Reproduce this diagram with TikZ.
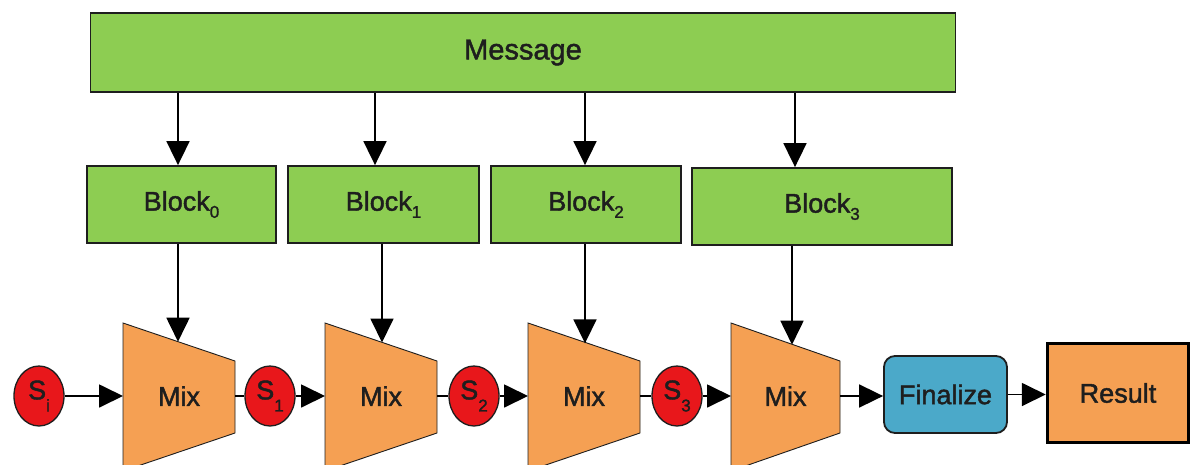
\documentclass[tikz,border=0pt]{standalone}
\usepackage{fontspec}
\setmainfont{Liberation Sans}
\newfontfamily\lblfont{Liberation Sans}[FakeBold=1.6]
\usetikzlibrary{arrows.meta,shapes.geometric}
\definecolor{gfill}{HTML}{8DCD52}
\definecolor{ofill}{HTML}{F5A053}
\definecolor{rfill}{HTML}{E8171B}
\definecolor{bfill}{HTML}{4BA9C9}
\definecolor{edge}{HTML}{1E1E1E}
\newcommand\sbs[2]{\raisebox{#1}{\fontsize{17}{18}\selectfont #2}}
\tikzset{
  lbl/.style={font=\lblfont\fontsize{27}{30}\selectfont, text=edge},
  gbox/.style={lbl, draw=edge, line width=1.8pt, fill=gfill, minimum height=77pt, inner sep=0pt},
  mixshape/.style={draw=edge, line width=0.9pt, fill=ofill},
  statenode/.style={ellipse, lbl, draw=edge, line width=1.3pt, fill=rfill, minimum width=50pt, minimum height=60pt, inner sep=0pt},
  arr/.style={line width=1.8pt, draw=black, -{Triangle[length=24pt,width=23pt]}},
  ln/.style={line width=1.8pt, draw=black},
}
\begin{document}
\begin{tikzpicture}[x=1pt,y=-1pt]
\useasboundingbox (0,0) rectangle (1192,464);
\clip (0,0) rectangle (1192,464);

% Message and blocks
\node[gbox, minimum width=865pt, minimum height=79pt, font=\lblfont\fontsize{29}{32}\selectfont] (msg) at (523,52.5) {Message};
\node[gbox, minimum width=189pt] (b0) at (181.5,204.5) {Block\sbs{-0.5ex}{0}};
\node[gbox, minimum width=191pt] (b1) at (383.5,204.5) {Block\sbs{-0.5ex}{1}};
\node[gbox, minimum width=190pt] (b2) at (586,204.5) {Block\sbs{-0.5ex}{2}};
\node[gbox, minimum width=260pt] (b3) at (822,206.5) {Block\sbs{-0.5ex}{3}};

% arrow columns
\coordinate (u0) at (178,0);
\coordinate (u1) at (375,0);
\coordinate (u2) at (585,0);
\coordinate (u3) at (795,0);
\coordinate (d0) at (178,0);
\coordinate (d1) at (382,0);
\coordinate (d2) at (585,0);
\coordinate (d3) at (792,0);

% Mix trapezoids
\foreach \i/\L/\R in {1/123/235, 2/325/437, 3/528/640, 4/731/840}{
  \draw[mixshape] (\L,323) -- (\R,361) -- (\R,433) -- (\L,471) -- cycle;
  \node[lbl] (m\i) at ({(\L+\R)/2},396) {Mix};
  \coordinate (m\i l) at (\L,396);
  \coordinate (m\i r) at (\R,396);
}
\coordinate (m1t) at (178,341.7);
\coordinate (m2t) at (382,342.5);
\coordinate (m3t) at (585,343.3);
\coordinate (m4t) at (792,344.7);

% states
\node[statenode] (si) at (39,396) {S\sbs{-0.85ex}{i}};
\node[statenode] (s1) at (270,396) {S\sbs{-0.85ex}{1}};
\node[statenode] (s2) at (474,396) {S\sbs{-0.85ex}{2}};
\node[statenode] (s3) at (677,396) {S\sbs{-0.85ex}{3}};

% finalize and result
\node[lbl, draw=edge, line width=1.8pt, fill=bfill, rounded corners=11pt, minimum width=123pt, minimum height=77pt, inner sep=0pt] (fin) at (945.5,394.5) {Finalize};
\node[lbl, draw=black, line width=3.5pt, fill=ofill, minimum width=141pt, minimum height=99pt, inner sep=0pt] (res) at (1118,393) {Result};

% message -> blocks
\draw[arr] (msg.south -| u0) -- (b0.north -| u0);
\draw[arr] (msg.south -| u1) -- (b1.north -| u1);
\draw[arr] (msg.south -| u2) -- (b2.north -| u2);
\draw[arr] (msg.south -| u3) -- (b3.north -| u3);

% blocks -> mix
\draw[arr] (b0.south -| d0) -- (m1t);
\draw[arr] (b1.south -| d1) -- (m2t);
\draw[arr] (b2.south -| d2) -- (m3t);
\draw[arr] (b3.south -| d3) -- (m4t);

% chain
\draw[arr] (si.east) -- (m1l);
\draw[ln] (m1r) -- (s1.west);
\draw[arr] (s1.east) -- (m2l);
\draw[ln] (m2r) -- (s2.west);
\draw[arr] (s2.east) -- (m3l);
\draw[ln] (m3r) -- (s3.west);
\draw[arr] (s3.east) -- (m4l);
\draw[arr] (m4r) -- (m4r -| fin.west);
\draw[arr] (fin.east) -- (fin.east -| res.west);
\end{tikzpicture}
\end{document}
